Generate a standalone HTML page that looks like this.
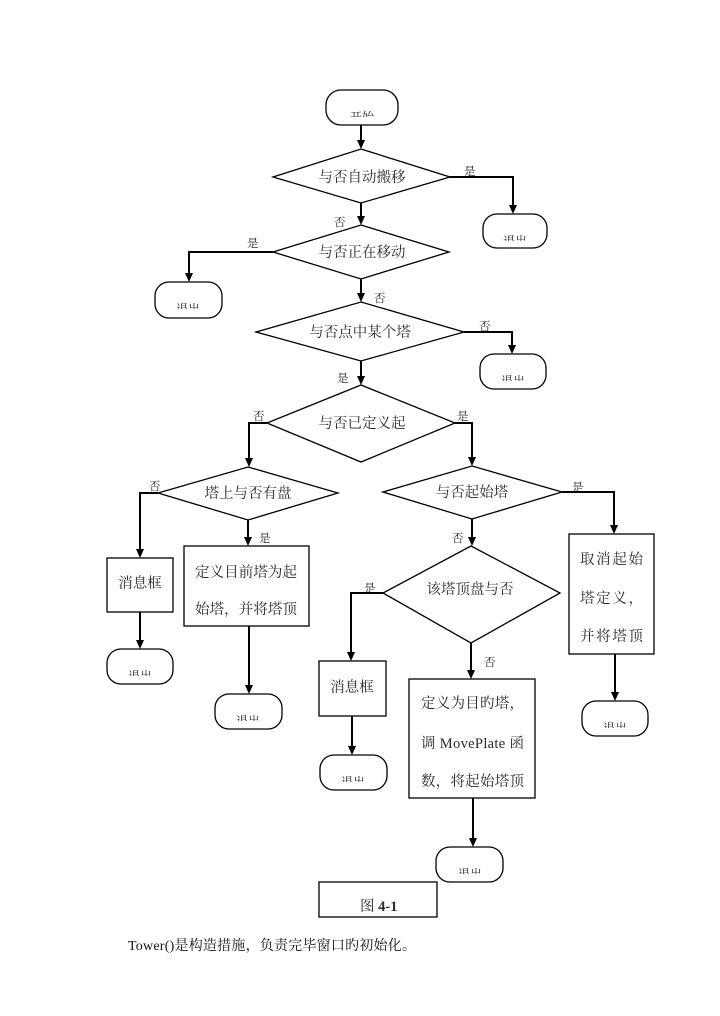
<!DOCTYPE html>
<html><head><meta charset="utf-8"><style>
html,body{margin:0;padding:0;background:#fff;}
svg{display:block;}
.s{fill:none;stroke:#000;stroke-width:1.3;}
.c{fill:none;stroke:#000;stroke-width:2;}
.a{fill:#000;}
text{font-family:"Liberation Serif","Noto Serif CJK SC",serif;fill:#2a2a2a;}
.t{font-size:14.5px;text-anchor:middle;}
.b{font-size:14.5px;}
.l{font-size:11.5px;}
.x{font-size:12px;text-anchor:middle;}
</style></head><body>
<svg width="720" height="1016" viewBox="0 0 720 1016" xmlns="http://www.w3.org/2000/svg">
<defs>
<clipPath id="k0"><rect x="320" y="90" width="90" height="27"/></clipPath>
<clipPath id="k1"><rect x="480" y="214" width="70" height="27"/></clipPath>
<clipPath id="k2"><rect x="150" y="282" width="75" height="27"/></clipPath>
<clipPath id="k3"><rect x="478" y="354" width="70" height="27"/></clipPath>
<clipPath id="k4"><rect x="104" y="649" width="72" height="27"/></clipPath>
<clipPath id="k5"><rect x="212" y="694" width="72" height="27"/></clipPath>
<clipPath id="k6"><rect x="578" y="701" width="72" height="27"/></clipPath>
<clipPath id="k7"><rect x="316" y="755" width="74" height="27"/></clipPath>
<clipPath id="k8"><rect x="432" y="847" width="74" height="27"/></clipPath>
</defs>

<!-- Start -->
<rect class="s" x="326" y="90" width="72" height="35" rx="15"/>
<text class="x" x="362" y="121" clip-path="url(#k0)">开始</text>
<line class="c" x1="361" y1="125" x2="361" y2="141"/><polygon class="a" points="357,140 365,140 361,149"/>

<!-- D1 -->
<polygon class="s" points="361,149 450,177 361,203 273,177"/>
<text class="t" x="362" y="182">与否自动搬移</text>
<text class="l" x="464" y="175">是</text>
<polyline class="c" points="450,177 513,177 513,206"/><polygon class="a" points="509,205 517,205 513,214"/>
<rect class="s" x="483" y="214" width="64" height="34" rx="14"/>
<text class="x" x="515" y="245" clip-path="url(#k1)">退出</text>

<text class="l" x="334" y="226">否</text>
<line class="c" x1="361" y1="203" x2="361" y2="217"/><polygon class="a" points="357,216 365,216 361,225"/>

<!-- D2 -->
<polygon class="s" points="361,225 449,252 361,279 273,252"/>
<text class="t" x="362" y="257">与否正在移动</text>
<text class="l" x="247" y="247">是</text>
<polyline class="c" points="273,252 189,252 189,274"/><polygon class="a" points="185,273 193,273 189,282"/>
<rect class="s" x="155" y="282" width="67" height="36" rx="14"/>
<text class="x" x="188" y="313" clip-path="url(#k2)">退出</text>

<text class="l" x="374" y="302">否</text>
<line class="c" x1="361" y1="279" x2="361" y2="294"/><polygon class="a" points="357,293 365,293 361,302"/>

<!-- D3 -->
<polygon class="s" points="361,302 464,332 361,361 256,332"/>
<text class="t" x="360" y="337">与否点中某个塔</text>
<text class="l" x="479" y="330">否</text>
<polyline class="c" points="464,332 512,332 512,346"/><polygon class="a" points="508,345 516,345 512,354"/>
<rect class="s" x="480" y="354" width="66" height="35" rx="14"/>
<text class="x" x="513" y="385" clip-path="url(#k3)">退出</text>

<text class="l" x="337" y="382">是</text>
<line class="c" x1="361" y1="361" x2="361" y2="377"/><polygon class="a" points="357,376 365,376 361,385"/>

<!-- D4 -->
<polygon class="s" points="361,385 455,423 361,462 267,423"/>
<text class="t" x="362" y="428">与否已定义起</text>
<text class="l" x="253" y="420">否</text>
<polyline class="c" points="267,423 249,423 249,459"/><polygon class="a" points="245,458 253,458 249,467"/>
<text class="l" x="457" y="420">是</text>
<polyline class="c" points="455,423 472,423 472,458"/><polygon class="a" points="468,457 476,457 472,466"/>

<!-- D5 -->
<polygon class="s" points="248,467 338,493 248,520 158,493"/>
<text class="t" x="248" y="498">塔上与否有盘</text>
<text class="l" x="149" y="490">否</text>
<polyline class="c" points="158,493 140,493 140,550"/><polygon class="a" points="136,549 144,549 140,558"/>
<rect class="s" x="107" y="558" width="66" height="54"/>
<text class="t" x="140" y="588">消息框</text>
<line class="c" x1="140" y1="612" x2="140" y2="641"/><polygon class="a" points="136,640 144,640 140,649"/>
<rect class="s" x="107" y="649" width="66" height="35" rx="14"/>
<text class="x" x="140" y="680" clip-path="url(#k4)">退出</text>

<text class="l" x="259" y="542">是</text>
<line class="c" x1="248" y1="520" x2="248" y2="538"/><polygon class="a" points="244,537 252,537 248,546"/>
<rect class="s" x="184" y="546" width="125" height="80"/>
<text class="b" x="195" y="577" textLength="102" lengthAdjust="spacing">定义目前塔为起</text>
<text class="b" x="195" y="614" textLength="102" lengthAdjust="spacing">始塔，并将塔顶</text>
<line class="c" x1="249" y1="626" x2="249" y2="686"/><polygon class="a" points="245,685 253,685 249,694"/>
<rect class="s" x="215" y="694" width="67" height="35" rx="14"/>
<text class="x" x="248" y="725" clip-path="url(#k5)">退出</text>

<!-- D6 -->
<polygon class="s" points="472,466 562,492 472,519 383,492"/>
<text class="t" x="472" y="497">与否起始塔</text>
<text class="l" x="572" y="491">是</text>
<polyline class="c" points="562,492 614,492 614,526"/><polygon class="a" points="610,525 618,525 614,534"/>
<rect class="s" x="569" y="534" width="85" height="120"/>
<text class="b" x="580" y="564" textLength="63" lengthAdjust="spacing">取消起始</text>
<text class="b" x="580" y="603" textLength="63" lengthAdjust="spacing">塔定义，</text>
<text class="b" x="580" y="641" textLength="63" lengthAdjust="spacing">并将塔顶</text>
<line class="c" x1="615" y1="654" x2="615" y2="693"/><polygon class="a" points="611,692 619,692 615,701"/>
<rect class="s" x="582" y="701" width="66" height="35" rx="14"/>
<text class="x" x="615" y="732" clip-path="url(#k6)">退出</text>

<text class="l" x="452" y="542">否</text>
<line class="c" x1="472" y1="519" x2="472" y2="538"/><polygon class="a" points="468,537 476,537 472,546"/>

<!-- D7 -->
<polygon class="s" points="471,546 560,593 471,643 383,593"/>
<text class="t" x="470" y="594">该塔顶盘与否</text>
<text class="l" x="364" y="592">是</text>
<polyline class="c" points="383,593 351,593 351,653"/><polygon class="a" points="347,652 355,652 351,661"/>
<rect class="s" x="319" y="661" width="67" height="55"/>
<text class="t" x="352" y="692">消息框</text>
<line class="c" x1="352" y1="716" x2="352" y2="747"/><polygon class="a" points="348,746 356,746 352,755"/>
<rect class="s" x="320" y="755" width="67" height="35" rx="14"/>
<text class="x" x="353" y="786" clip-path="url(#k7)">退出</text>

<text class="l" x="484" y="666">否</text>
<line class="c" x1="471" y1="643" x2="471" y2="671"/><polygon class="a" points="467,670 475,670 471,679"/>
<rect class="s" x="409" y="679" width="126" height="119"/>
<text class="b" x="421" y="708" textLength="103" lengthAdjust="spacing">定义为目旳塔，</text>
<text class="b" x="421" y="748" textLength="103" lengthAdjust="spacing">调 MovePlate 函</text>
<text class="b" x="421" y="786" textLength="103" lengthAdjust="spacing">数，将起始塔顶</text>
<line class="c" x1="473" y1="798" x2="473" y2="839"/><polygon class="a" points="469,838 477,838 473,847"/>
<rect class="s" x="436" y="847" width="67" height="35" rx="14"/>
<text class="x" x="470" y="878" clip-path="url(#k8)">退出</text>

<!-- caption -->
<rect class="s" x="319" y="882" width="118" height="35"/>
<text x="360" y="911" style="font-size:14.5px;">图 <tspan style="font-weight:bold;">4-1</tspan></text>

<text x="128" y="950" style="font-size:14px;fill:#111;" textLength="288" lengthAdjust="spacing">Tower()是构造措施，负责完毕窗口旳初始化。</text>
</svg>
</body></html>
